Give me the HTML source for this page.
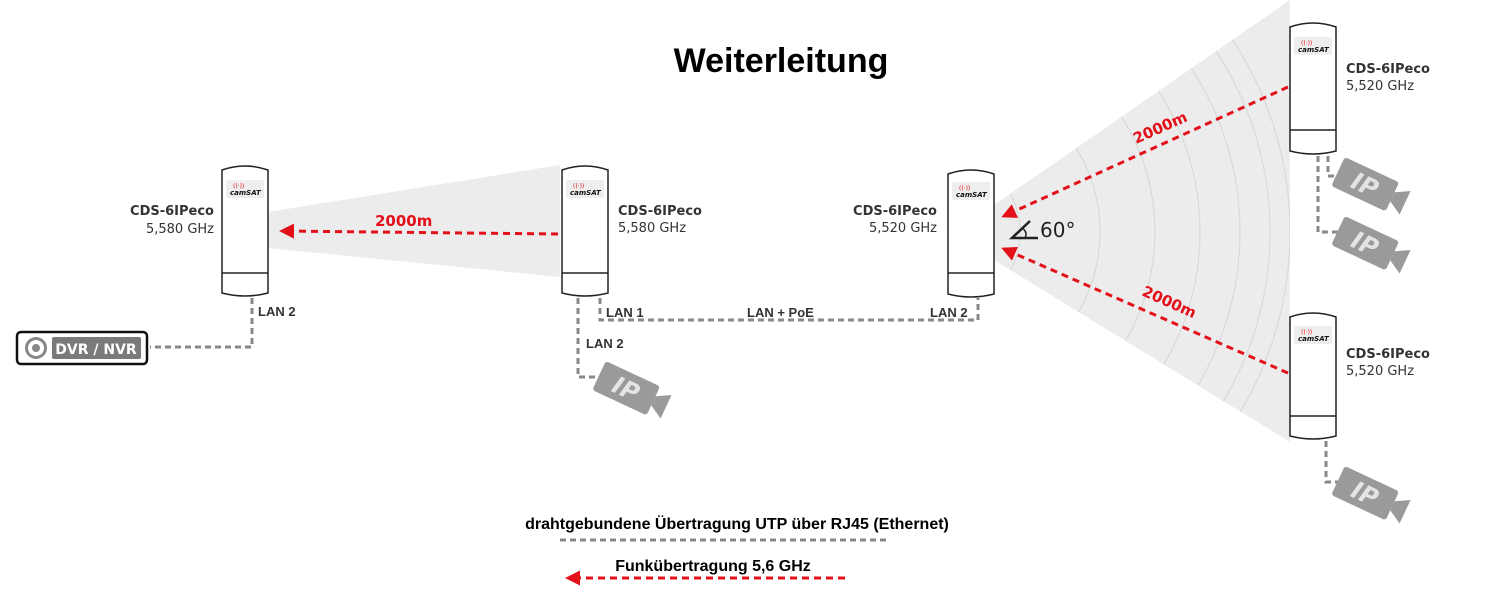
<!DOCTYPE html>
<html><head><meta charset="utf-8"><style>
html,body{margin:0;padding:0;background:#fff;}
svg{display:block;font-family:"DejaVu Sans","Liberation Sans",sans-serif;}
</style></head><body>
<svg width="1510" height="616" viewBox="0 0 1510 616" xmlns="http://www.w3.org/2000/svg">
<defs>
<clipPath id="wc"><polygon points="994,205 1290,0 1290,442 994,260"/></clipPath>
<marker id="ah" viewBox="0 0 10 10" refX="8" refY="5" markerWidth="5" markerHeight="5" orient="auto"><path d="M10,5 L0,0 L0,10 Z" fill="#e3101a"/></marker>
</defs>
<polygon points="268,212 560,165 560,277 268,248" fill="#ececec"/>
<polygon points="994,205 1290,0 1290,442 994,260" fill="#ececec"/>
<g clip-path="url(#wc)" fill="none" stroke="#d6d6d6" stroke-width="1">
<circle cx="940" cy="232" r="80"/><circle cx="940" cy="232" r="160"/><circle cx="940" cy="232" r="215"/><circle cx="940" cy="232" r="260"/><circle cx="940" cy="232" r="300"/><circle cx="940" cy="232" r="330"/><circle cx="940" cy="232" r="350"/>
</g>
<text x="781" y="72" font-family="Liberation Sans,sans-serif" font-weight="bold" font-size="34" text-anchor="middle">Weiterleitung</text>
<g fill="none" stroke="#888" stroke-width="3" stroke-dasharray="6,4">
<path d="M252,298 V347 H150"/>
<path d="M600,298 V320 H978 V298"/>
<path d="M578,298 V377 H600"/>
<path d="M1318,156 V232 H1345"/>
<path d="M1328,156 V176 H1345"/>
<path d="M1326,441 V482 H1345"/>
<path d="M560,540 H886"/>
</g>
<g stroke="#222" stroke-width="1.5" fill="#fff">
<path d="M222,170 Q245,162 268,170 V293 Q245,299 222,293 Z"/><line x1="222" y1="273" x2="268" y2="273"/>
<path d="M562,170 Q585,162 608,170 V293 Q585,299 562,293 Z"/><line x1="562" y1="273" x2="608" y2="273"/>
<path d="M948,174 Q971,166 994,174 V294 Q971,300 948,294 Z"/><line x1="948" y1="273" x2="994" y2="273"/>
<path d="M1290,27 Q1313,19 1336,27 V151 Q1313,157 1290,151 Z"/><line x1="1290" y1="130" x2="1336" y2="130"/>
<path d="M1290,317 Q1313,309 1336,317 V436 Q1313,442 1290,436 Z"/><line x1="1290" y1="416" x2="1336" y2="416"/>
</g>
<g fill="#eee">
<rect x="226" y="180" width="38" height="18" rx="2"/><rect x="566" y="180" width="38" height="18" rx="2"/><rect x="952" y="182" width="38" height="18" rx="2"/><rect x="1294" y="37" width="38" height="18" rx="2"/><rect x="1294" y="326" width="38" height="18" rx="2"/>
</g>
<g font-size="7" font-style="italic" font-weight="bold" fill="#111">
<text x="230" y="195">camSAT</text><text x="570" y="195">camSAT</text><text x="956" y="197">camSAT</text><text x="1298" y="52">camSAT</text><text x="1298" y="341">camSAT</text>
</g>
<g fill="#e3101a" font-size="6"><text x="233" y="188">((·))</text><text x="573" y="188">((·))</text><text x="959" y="190">((·))</text><text x="1301" y="45">((·))</text><text x="1301" y="334">((·))</text></g>
<g font-size="13" fill="#333">
<text x="214" y="215" text-anchor="end" font-weight="bold">CDS-6IPeco</text><text x="214" y="233" text-anchor="end">5,580 GHz</text>
<text x="618" y="215" font-weight="bold">CDS-6IPeco</text><text x="618" y="232">5,580 GHz</text>
<text x="937" y="215" text-anchor="end" font-weight="bold">CDS-6IPeco</text><text x="937" y="232" text-anchor="end">5,520 GHz</text>
<text x="1346" y="73" font-weight="bold">CDS-6IPeco</text><text x="1346" y="90">5,520 GHz</text>
<text x="1346" y="358" font-weight="bold">CDS-6IPeco</text><text x="1346" y="375">5,520 GHz</text>
</g>
<g font-size="13" font-weight="bold" fill="#333" font-family="Liberation Sans,sans-serif">
<text x="258" y="316">LAN 2</text><text x="606" y="317">LAN 1</text><text x="747" y="317">LAN + PoE</text><text x="930" y="317">LAN 2</text><text x="586" y="348">LAN 2</text>
</g>
<rect x="17" y="332" width="130" height="32" rx="4" fill="#fff" stroke="#111" stroke-width="2.5"/>
<circle cx="36" cy="348" r="11" fill="#888"/><circle cx="36" cy="348" r="8" fill="#fff"/><circle cx="36" cy="348" r="4" fill="#888"/>
<rect x="52" y="337" width="89" height="22" rx="2" fill="#7a7a7a"/>
<text x="96" y="354" text-anchor="middle" font-size="14" font-weight="bold" fill="#fff">DVR / NVR</text>
<g stroke="#e3101a" stroke-width="3" stroke-dasharray="7,5" fill="none">
<line x1="558" y1="234" x2="282" y2="231" marker-end="url(#ah)"/>
<line x1="1288" y1="87" x2="1004" y2="216" marker-end="url(#ah)"/>
<line x1="1288" y1="373" x2="1004" y2="249" marker-end="url(#ah)"/>
<line x1="845" y1="578" x2="568" y2="578" marker-end="url(#ah)"/>
</g>
<g fill="#e3101a" font-size="15" font-weight="bold">
<rect x="373" y="210" width="56" height="18" fill="#ececec"/>
<text x="375" y="226">2000m</text>
<text x="0" y="0" transform="translate(1136,144) rotate(-24)">2000m</text>
<text x="0" y="0" transform="translate(1141,295) rotate(24)">2000m</text>
</g>
<path d="M1030,221 L1012,238 H1038" fill="none" stroke="#222" stroke-width="2.5"/>
<path d="M1022,228 Q1028,232 1025,238" fill="none" stroke="#222" stroke-width="1.5"/>
<text x="1040" y="237" font-size="20" fill="#222">60°</text>
<g transform="translate(628,389) rotate(25)"><rect x="-32" y="-16" width="60" height="32" rx="3" fill="#9a9a9a"/><polygon points="28,-5 42,-13 42,13 28,5" fill="#9a9a9a"/><text x="-2" y="9" text-anchor="middle" font-size="24" font-weight="bold" font-style="italic" fill="#e4e4e4">IP</text></g>
<g transform="translate(1367,185) rotate(25)"><rect x="-32" y="-16" width="60" height="32" rx="3" fill="#9a9a9a"/><polygon points="28,-5 42,-13 42,13 28,5" fill="#9a9a9a"/><text x="-2" y="9" text-anchor="middle" font-size="24" font-weight="bold" font-style="italic" fill="#e4e4e4">IP</text></g>
<g transform="translate(1367,244) rotate(25)"><rect x="-32" y="-16" width="60" height="32" rx="3" fill="#9a9a9a"/><polygon points="28,-5 42,-13 42,13 28,5" fill="#9a9a9a"/><text x="-2" y="9" text-anchor="middle" font-size="24" font-weight="bold" font-style="italic" fill="#e4e4e4">IP</text></g>
<g transform="translate(1367,494) rotate(25)"><rect x="-32" y="-16" width="60" height="32" rx="3" fill="#9a9a9a"/><polygon points="28,-5 42,-13 42,13 28,5" fill="#9a9a9a"/><text x="-2" y="9" text-anchor="middle" font-size="24" font-weight="bold" font-style="italic" fill="#e4e4e4">IP</text></g>
<text x="737" y="529" text-anchor="middle" font-family="Liberation Sans,sans-serif" font-size="16" font-weight="bold">drahtgebundene Übertragung UTP über RJ45 (Ethernet)</text>
<text x="713" y="571" text-anchor="middle" font-family="Liberation Sans,sans-serif" font-size="16" font-weight="bold">Funkübertragung 5,6 GHz</text>
</svg>
</body></html>
